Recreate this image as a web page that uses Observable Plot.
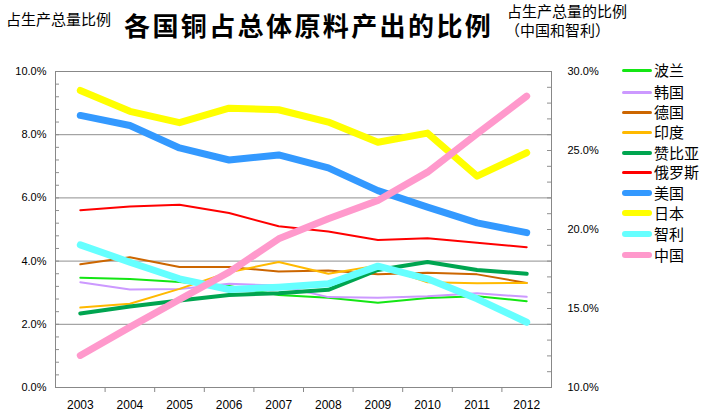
<!DOCTYPE html>
<html><head><meta charset="utf-8">
<script src="https://cdn.jsdelivr.net/npm/d3@7"></script>
<script src="https://cdn.jsdelivr.net/npm/@observablehq/plot@0.6"></script>
<style>
body{margin:0;background:#fff;}
#wrap{position:relative;width:713px;height:418px;overflow:hidden;font-family:"Noto Sans CJK SC","Noto Sans",sans-serif;}
.t{position:absolute;white-space:nowrap;color:#000;line-height:1;}
.sw{position:absolute;border-radius:4px;}
</style></head><body><div id="wrap"></div>
<script>
const years = [2003, 2004, 2005, 2006, 2007, 2008, 2009, 2010, 2011, 2012];
// left axis (%)
const poland  = [3.47, 3.43, 3.34, 3.21, 2.93, 2.84, 2.68, 2.83, 2.89, 2.73];
const korea   = [3.33, 3.10, 3.12, 3.28, 3.23, 2.86, 2.84, 2.89, 2.98, 2.87];
const germany = [3.90, 4.12, 3.81, 3.81, 3.67, 3.70, 3.58, 3.63, 3.58, 3.31];
const india   = [2.53, 2.65, 3.12, 3.65, 3.97, 3.60, 3.86, 3.33, 3.30, 3.31];
const zambia  = [2.34, 2.56, 2.75, 2.93, 2.98, 3.09, 3.72, 3.97, 3.72, 3.60];
const russia  = [5.61, 5.73, 5.78, 5.52, 5.10, 4.94, 4.67, 4.72, 4.58, 4.44];
const usa     = [8.61, 8.29, 7.58, 7.20, 7.36, 6.95, 6.23, 5.71, 5.21, 4.90];
const japan   = [9.40, 8.74, 8.38, 8.84, 8.79, 8.40, 7.76, 8.05, 6.69, 7.43];
// right axis (%)
const chile   = [19.03, 17.93, 16.88, 16.20, 16.35, 16.56, 17.68, 16.88, 15.61, 14.13];
const china   = [12.03, 13.82, 15.57, 17.30, 19.41, 20.68, 21.84, 23.63, 26.06, 28.44];

const leftTicks = [0, 2, 4, 6, 8, 10];
const rightTicks = [10, 15, 20, 25, 30];
const leftMinor = d3.range(0, 10.001, 0.4);
const rightMinor = d3.range(10, 30.001, 1);

const series = [
  {name: "波兰", values: poland, color: "#14e614", w: 2, lw: 3, axis: "L"},
  {name: "韩国", values: korea, color: "#cc99ff", w: 2, lw: 3, axis: "L"},
  {name: "德国", values: germany, color: "#cc6600", w: 2, lw: 3, axis: "L"},
  {name: "印度", values: india, color: "#ffb900", w: 2, lw: 3, axis: "L"},
  {name: "赞比亚", values: zambia, color: "#00a550", w: 4, lw: 4, axis: "L"},
  {name: "俄罗斯", values: russia, color: "#ff0000", w: 2, lw: 3, axis: "L"},
  {name: "美国", values: usa, color: "#3399ff", w: 7, lw: 6, axis: "L"},
  {name: "日本", values: japan, color: "#ffff00", w: 7, lw: 6, axis: "L"},
  {name: "智利", values: chile, color: "#66ffff", w: 7, lw: 6, axis: "R"},
  {name: "中国", values: china, color: "#ff99cc", w: 7, lw: 6, axis: "R"}
];
// right axis 10%..30% mapped onto left 0..10
const toLeft = v => (v - 10) / 2;

const rows = s => years.map((y, i) => ({year: y, v: s.axis === "R" ? toLeft(s.values[i]) : s.values[i]}));
const boundaries = years.slice(0, -1).map(y => y + 0.5);

const chart = Plot.plot({
  width: 713, height: 418,
  marginLeft: 55, marginRight: 162, marginTop: 71, marginBottom: 31,
  x: {domain: [2002.5, 2012.5], label: null},
  y: {domain: [0, 10], label: null},
  style: {fontFamily: "'Liberation Sans', Arial, sans-serif", fontSize: "11px", color: "#000", background: "#fff"},
  marks: [
    Plot.ruleY([2, 4, 6, 8], {stroke: "#8f8f8f"}),
    Plot.ruleY(leftMinor, {stroke: "#8f8f8f", insetRight: 492}),
    Plot.ruleY(rightMinor.map(toLeft), {stroke: "#8f8f8f", insetLeft: 492}),
    Plot.frame({stroke: "#888"}),
    Plot.axisY(leftTicks, {anchor: "left", label: null, tickSize: 0, tickPadding: 9, tickFormat: d => d.toFixed(1) + "%", fontSize: 11}),
    Plot.axisY(rightTicks.map(toLeft), {anchor: "right", label: null, tickSize: 0, tickPadding: 16, tickFormat: d => (d * 2 + 10).toFixed(1) + "%", fontSize: 11}),
    Plot.axisX(years, {label: null, tickSize: 0, tickPadding: 13, tickFormat: d => String(d), fontSize: 12}),
    Plot.axisX(boundaries, {label: null, tickSize: 5, tickFormat: () => "", stroke: "#888"}),
    ...series.map(s => Plot.lineY(rows(s), {x: "year", y: "v", stroke: s.color, strokeWidth: s.w, strokeLinejoin: "round", strokeLinecap: "round"}))
  ]
});

const wrap = document.getElementById("wrap");
wrap.appendChild(chart);

function addText(txt, left, top, size, extra) {
  const d = document.createElement("div");
  d.className = "t";
  d.textContent = txt;
  d.style.left = left + "px";
  d.style.top = top + "px";
  d.style.fontSize = size + "px";
  if (extra) Object.assign(d.style, extra);
  wrap.appendChild(d);
}
addText("各国铜占总体原料产出的比例", 124, 12, 26, {fontWeight: "bold", letterSpacing: "2.4px"});
addText("占生产总量比例", 6, 11, 15);
addText("占生产总量的比例", 507, 3, 15);
addText("（中国和智利）", 505, 22, 15);

const legY = [70, 92, 112, 132, 153, 172, 193, 213, 234, 255];
series.forEach((s, i) => {
  const sw = document.createElement("div");
  sw.className = "sw";
  sw.style.left = "622px";
  sw.style.width = "30px";
  sw.style.height = s.lw + "px";
  sw.style.top = (legY[i] - s.lw / 2) + "px";
  sw.style.background = s.color;
  wrap.appendChild(sw);
  addText(s.name, 654, legY[i] - 8, 15);
});
</script>
</body></html>
